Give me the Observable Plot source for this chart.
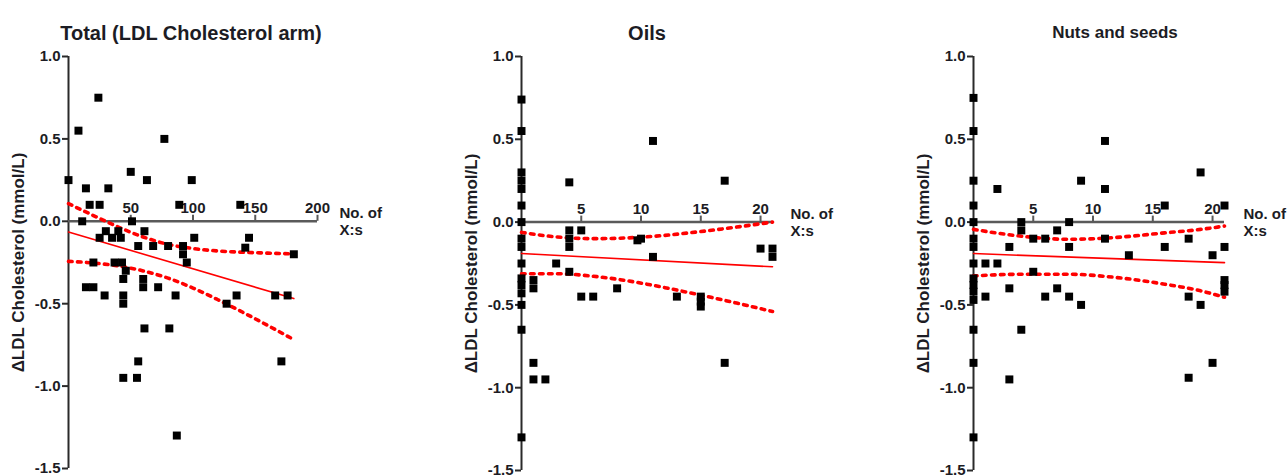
<!DOCTYPE html>
<html><head><meta charset="utf-8">
<script src="https://cdn.jsdelivr.net/npm/d3@7"></script>
<script src="https://cdn.jsdelivr.net/npm/@observablehq/plot@0.6"></script>
<style>
body{margin:0;background:#fff;}
#row{display:flex;width:1287px;height:475px;overflow:hidden;}
#row svg{display:block;}
</style>
</head><body><div id="row"></div>
<script>
const yLabel = "\u0394LDL Cholesterol (mmol/L)";
const xLabel = "No. of\nX:s";
const yTicks = [1.0, 0.5, 0.0, -0.5, -1.0, -1.5];

// Panel 1: Total (LDL Cholesterol arm)
const p1Title = "Total (LDL Cholesterol arm)";
const p1XTicks = [50, 100, 150, 200];
const p1X = [0,8,24,77,50,63,99,14,32,17,25,89,138,11,51,30,40,61,25,35,42,101,145,56,68,80,92,142,92,181,20,37,43,95,46,44,60,14,20,60,72,29,44,86,135,166,176,44,127,61,81,56,171,44,55,87];
const p1Y = [0.25,0.55,0.75,0.50,0.30,0.25,0.25,0.20,0.20,0.10,0.10,0.10,0.10,0.00,0.00,-0.06,-0.06,-0.06,-0.10,-0.10,-0.10,-0.10,-0.10,-0.15,-0.15,-0.15,-0.15,-0.16,-0.20,-0.20,-0.25,-0.25,-0.25,-0.25,-0.30,-0.35,-0.35,-0.40,-0.40,-0.40,-0.40,-0.45,-0.45,-0.45,-0.45,-0.45,-0.45,-0.50,-0.50,-0.65,-0.65,-0.85,-0.85,-0.95,-0.95,-1.30];
const p1LineX = [0, 181];
const p1LineY = [-0.065, -0.469];
const p1CiX = [0,20,40,60,80,100,120,140,160,181];
const p1CiUpper = [0.107,0.035,-0.035,-0.095,-0.14,-0.165,-0.18,-0.188,-0.193,-0.198];
const p1CiLower = [-0.243,-0.253,-0.271,-0.301,-0.345,-0.405,-0.476,-0.552,-0.632,-0.718];

// Panel 2: Oils
const p2Title = "Oils";
const p2XTicks = [5, 10, 15, 20];
const p2X = [0,0,0,0,0,0,0,0,0,0,0,0,0,0,0,0,1,1,1,1,2,2.9,4,4,4,4,4,5,5,6,8,9.7,10,11,11,13,15,15,15,17,17,20,21,21];
const p2Y = [0.74,0.55,0.30,0.25,0.20,0.10,0.00,-0.10,-0.15,-0.25,-0.34,-0.38,-0.43,-0.50,-0.65,-1.30,-0.35,-0.40,-0.85,-0.95,-0.95,-0.25,0.24,-0.05,-0.10,-0.15,-0.30,-0.05,-0.45,-0.45,-0.40,-0.11,-0.10,0.49,-0.21,-0.45,-0.45,-0.48,-0.51,0.25,-0.85,-0.16,-0.16,-0.21];
const p2LineX = [0, 21];
const p2LineY = [-0.19, -0.27];
const p2CiX = [0,3,6,9,12,15,18,21];
const p2CiUpper = [-0.062,-0.09,-0.1,-0.095,-0.08,-0.057,-0.03,0.0];
const p2CiLower = [-0.312,-0.312,-0.327,-0.356,-0.396,-0.441,-0.489,-0.54];

// Panel 3: Nuts and seeds
const p3Title = "Nuts and seeds";
const p3XTicks = [5, 10, 15, 20];
const p3X = [0,0,0,0,0,0,0,0,0,0,0,0,0,0,0,1,1,2,2,3,3,3,4,4,4,5,5,6,6,7,7,8,8,8,9,9,11,11,11,13,16,16,18,18,18,19,19,20,20,21,21,21,21,21];
const p3Y = [0.75,0.55,0.25,0.10,0.00,-0.10,-0.15,-0.25,-0.34,-0.38,-0.42,-0.47,-0.65,-0.85,-1.30,-0.25,-0.45,0.20,-0.25,-0.15,-0.40,-0.95,0.00,-0.05,-0.65,-0.10,-0.30,-0.10,-0.45,-0.05,-0.40,0.00,-0.15,-0.45,0.25,-0.50,0.49,0.20,-0.10,-0.20,0.10,-0.15,-0.10,-0.45,-0.94,0.30,-0.50,-0.20,-0.85,0.10,-0.15,-0.35,-0.38,-0.42];
const p3LineX = [0, 21];
const p3LineY = [-0.19, -0.245];
const p3CiX = [0,4,8,12,16,19,21];
const p3CiUpper = [-0.044,-0.085,-0.104,-0.092,-0.065,-0.044,-0.024];
const p3CiLower = [-0.325,-0.315,-0.315,-0.335,-0.375,-0.415,-0.454];

const FONT = "'Liberation Sans', Arial, sans-serif";
const TXT = "#1c1c24";

function panel(o) {
  const pts = o.x.map((x, i) => ({x, y: o.y[i]}));
  const reg = o.lineX.map((x, i) => ({x, y: o.lineY[i]}));
  const ci = o.ciX.map((x, i) => ({x, u: o.ciU[i], l: o.ciL[i]}));
  const dotted = {stroke: "#ff0000", strokeWidth: 3.6, strokeDasharray: "3.6,5.4", curve: "monotone-x"};
  return Plot.plot({
    width: 429, height: 475,
    marginLeft: o.ml, marginRight: 429 - o.ml - o.pw, marginTop: 56, marginBottom: o.mb,
    style: {fontFamily: FONT, background: "white", color: TXT, overflow: "visible"},
    x: {domain: o.xDomain, axis: null},
    y: {domain: [-1.5, 1], axis: null},
    marks: [
      Plot.ruleX([0], {stroke: "#2a2a2a", strokeWidth: 2}),
      Plot.axisY({ticks: yTicks, tickFormat: d => d.toFixed(1), tickSize: 6, tickPadding: 2,
        fontSize: 15, fontWeight: "bold", fill: TXT, stroke: "#2a2a2a", strokeWidth: 2, label: null}),
      Plot.ruleY([0], {stroke: "#5a5a5a", strokeWidth: 2.5}),
      Plot.ruleX(o.xTicks, {x: d => d, y1: 0, y2: 0, insetTop: -6, stroke: "#5a5a5a", strokeWidth: 2}),
      Plot.text(o.xTicks, {x: d => d, y: 0, text: d => String(d), dy: -13, fontSize: 15, fontWeight: "bold", fill: TXT}),
      Plot.text([xLabel], {x: o.xDomain[1], y: 0, dx: o.noteDx, textAnchor: "start", lineAnchor: "middle", lineHeight: 1.15, fontSize: 15, fontWeight: "bold", fill: TXT}),
      Plot.text([o.title], {frameAnchor: "top", dy: -31, dx: o.titleDx, fontSize: o.titleSize, fontWeight: "bold", fill: TXT}),
      Plot.text([yLabel], {frameAnchor: "left", textAnchor: "middle", rotate: -90, dx: -50, fontSize: 17, fontWeight: "bold", fill: TXT}),
      Plot.line(reg, {x: "x", y: "y", stroke: "#ff0000", strokeWidth: 1.6}),
      Plot.line(ci, {x: "x", y: "u", ...dotted}),
      Plot.line(ci, {x: "x", y: "l", ...dotted}),
      Plot.dot(pts, {x: "x", y: "y", symbol: "square", r: 4.5, fill: "#000", stroke: "none"})
    ]
  });
}

const row = document.getElementById("row");
row.append(panel({title: p1Title, x: p1X, y: p1Y, lineX: p1LineX, lineY: p1LineY, ciX: p1CiX, ciU: p1CiUpper, ciL: p1CiLower,
  xDomain: [0, 200], xTicks: p1XTicks, ml: 68, pw: 249, mb: 7, titleDx: -2, titleSize: 20, noteDx: 22}));
row.append(panel({title: p2Title, x: p2X, y: p2Y, lineX: p2LineX, lineY: p2LineY, ciX: p2CiX, ciU: p2CiUpper, ciL: p2CiLower,
  xDomain: [0, 21], xTicks: p2XTicks, ml: 92, pw: 251, mb: 5, titleDx: 0, titleSize: 20, noteDx: 18}));
row.append(panel({title: p3Title, x: p3X, y: p3Y, lineX: p3LineX, lineY: p3LineY, ciX: p3CiX, ciU: p3CiUpper, ciL: p3CiLower,
  xDomain: [0, 21], xTicks: p3XTicks, ml: 115, pw: 251, mb: 5, titleDx: 16, titleSize: 17, noteDx: 19}));
</script>
</body></html>
